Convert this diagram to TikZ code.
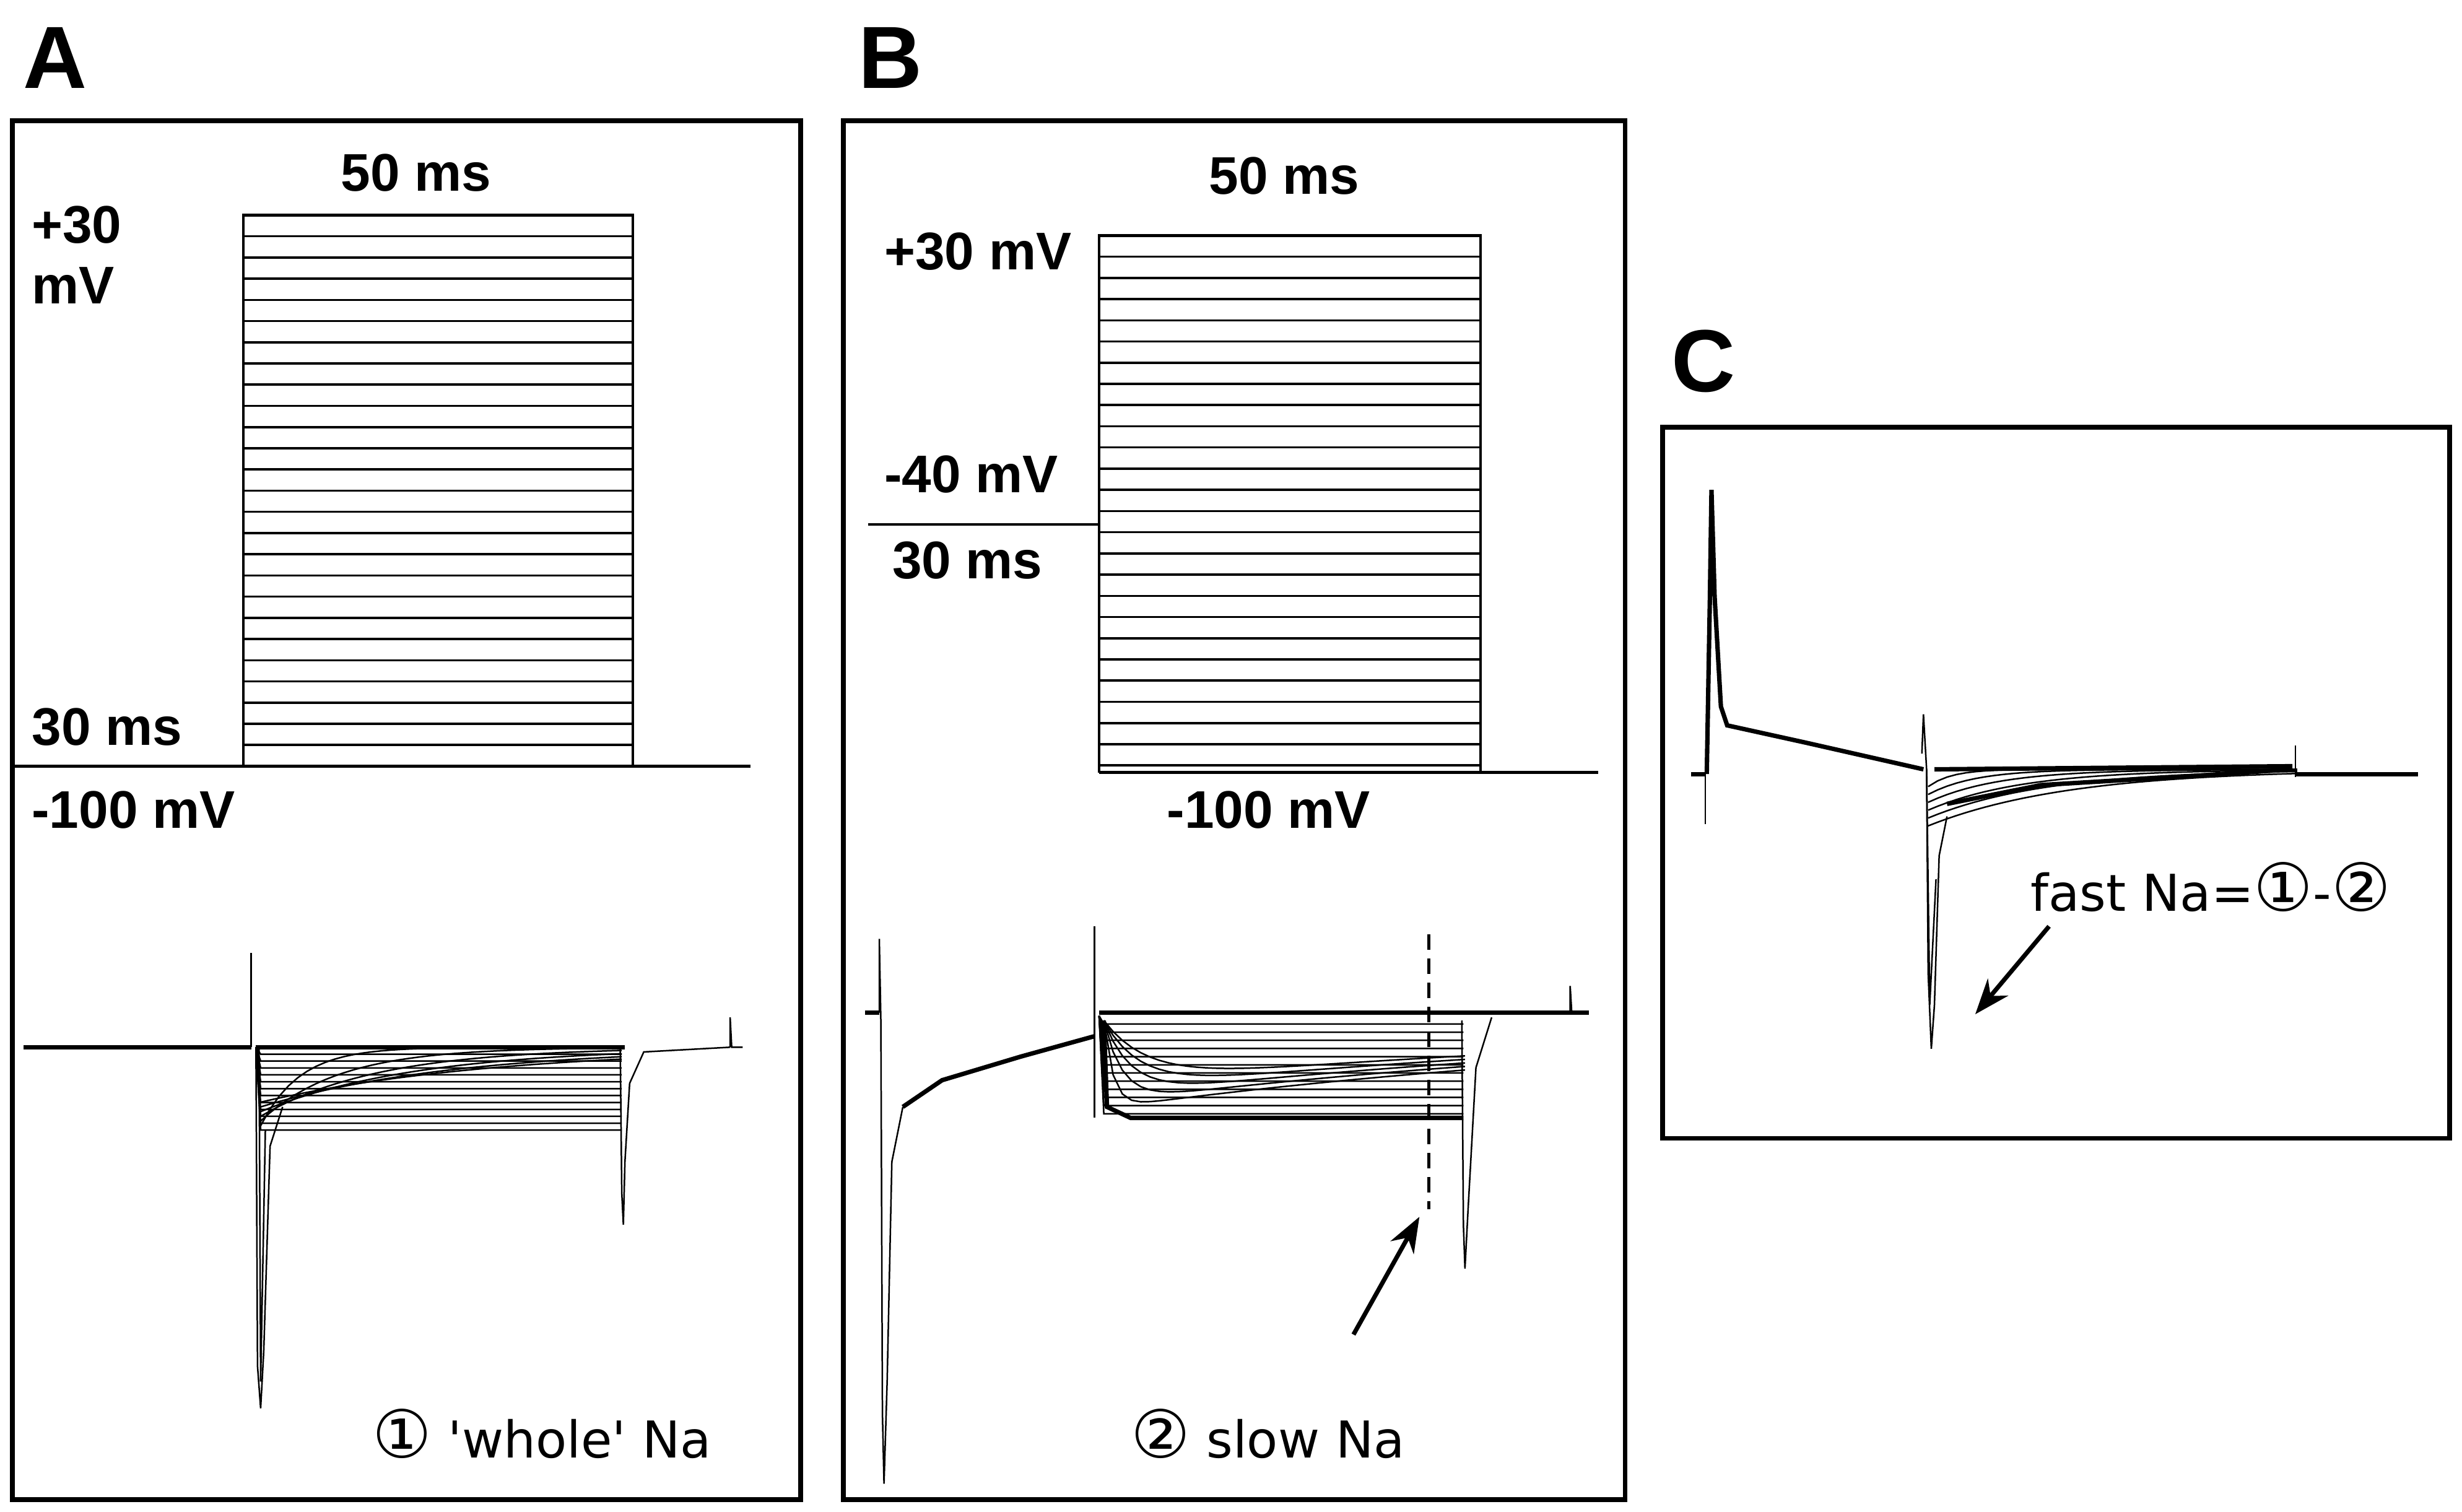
\documentclass[tikz,border=0pt]{standalone}
\usepackage{fontspec}
\setmainfont{Liberation Sans}
\newfontfamily\dv{DejaVu Sans}
\newcommand\cdig[1]{{\fontsize{30}{30}\selectfont #1}}
\usetikzlibrary{arrows.meta}
\begin{document}
\begin{tikzpicture}[x=0.025cm,y=-0.025cm,
 panel/.style={line width=2.2pt},
 big/.style={font=\fontsize{40}{40}\selectfont\bfseries},
 lab/.style={font=\fontsize{24}{26}\selectfont\bfseries,anchor=west,inner sep=0},
 ann/.style={font=\dv\fontsize{23}{25}\selectfont,inner sep=0},
 tr/.style={line width=0.7pt},
 thick tr/.style={line width=2pt},
 arr/.style={line width=2pt,-{Stealth[length=16pt,width=12pt]}}]
\useasboundingbox (0,0) rectangle (1568,963);
% Panel A
\node[big] (LA) at (35,37) {A};
\draw[panel] (8,77) rectangle (510,955);
\node[lab,anchor=center] (tA) at (265,110) {50 ms};
\node[lab] (vA1) at (20,143) {+30};
\node[lab] (vA2) at (20,182) {mV};
\node[lab] (vA3) at (20,463) {30 ms};
\node[lab] (vA4) at (20,516) {-100 mV};
\draw[line width=1.2pt] (8,488) -- (478,488);
\draw[line width=1.2pt] (155,488) -- (155,137) -- (403,137) -- (403,488);
\foreach \i in {0,...,25} \draw[line width=1pt] (155,137+13.5*\i) -- (403,137+13.5*\i);
% trace A
\draw[thick tr] (15,667) -- (160,667);
\draw[tr] (160,667) -- (160,607) -- (160,667);
\draw[thick tr] (163,667) -- (398,667);
\foreach \i in {1,...,12}{
 \draw[tr] (163,667) -- (166,667+4.4*\i) -- (396,667+4.4*\i);
}
\foreach \i in {1,...,6}{
 \draw[tr] plot[domain=0:230,samples=40] ({166+\x},{667+(53-\i*3)*exp(-\x/(25*\i))});
}
\draw[tr] (163,667) -- (164,870) -- (166,897) -- (168,860) -- (172,730) -- (180,705);
\draw[tr] (165,667) -- (166,880) -- (169,720);
\draw[tr] (395,667) -- (396,760) -- (397,780) -- (398,740) -- (401,690) -- (410,670) -- (465,667);
\draw[tr] (465,667) -- (465,648) -- (466,667) -- (473,667);
\node[ann,anchor=west] (nA) at (237,913) {\cdig{①} 'whole' Na};
% Panel B
\node[big] (LB) at (567,37) {B};
\draw[panel] (537,77) rectangle (1035,955);
\node[lab,anchor=center] (tB) at (818,112) {50 ms};
\node[lab] (vB1) at (563,160) {+30 mV};
\node[lab] (vB2) at (563,302) {-40 mV};
\node[lab] (vB3) at (568,357) {30 ms};
\node[lab,anchor=center] (vB4) at (808,516) {-100 mV};
\draw[line width=1.2pt] (553,334) -- (700,334);
\draw[line width=1.2pt] (700,492) -- (1018,492);
\draw[line width=1.2pt] (700,492) -- (700,150) -- (943,150) -- (943,492);
\foreach \i in {0,...,25} \draw[line width=1pt] (700,150+13.5*\i) -- (943,150+13.5*\i);
% trace B
\draw[thick tr] (551,645) -- (560,645);
\draw[tr] (560,645) -- (560,598) -- (561,650) -- (562,900) -- (563,945) -- (565,880) -- (568,740) -- (575,705);
\draw[thick tr] (575,705) -- (600,688) -- (650,673) -- (697,660);
\draw[tr] (697,590) -- (697,712);
\draw[thick tr] (700,645) -- (1012,645);
\foreach \i in {1,...,12}{
 \draw[tr] (700,647) -- (703,647+5.2*\i) -- (932,647+5.2*\i);
}
\foreach \i in {1,...,5}{
 \draw[tr] plot[domain=0:230,samples=40] ({703+\x},{650+(60-\i*4)*(1-exp(-\x/(6*\i)))*exp(-\x/400)});
}
\draw[thick tr] (703,650) -- (705,705) -- (720,712) -- (932,712);
\draw[tr] (931,650) -- (932,780) -- (933,808) -- (935,770) -- (940,680) -- (950,648);
\draw[tr] (1000,645) -- (1000,628) -- (1001,645);
\draw[line width=1.6pt,dash pattern=on 7pt off 4pt] (910,595) -- (910,770);
\coordinate (aB1) at (862,850);
\coordinate (aB2) at (904,775);
\draw[arr] (aB1) -- (aB2);
\node[ann,anchor=west] (nB) at (720,913) {\cdig{②} slow Na};
% Panel C
\node[big] (LC) at (1085,230) {C};
\draw[panel] (1059,272) rectangle (1560,725);
\draw[thick tr] (1077,493) -- (1086,493);
\draw[tr] (1086,493) -- (1086,525);
\draw[thick tr] (1087,493) -- (1089,380) -- (1090,312) -- (1092,380) -- (1096,450) -- (1100,462) -- (1150,473) -- (1225,490);
\draw[tr] (1224,480) -- (1225,455) -- (1227,490) -- (1228,620) -- (1230,668) -- (1232,640) -- (1235,545) -- (1240,520);
\draw[tr] (1227,490) -- (1229,640) -- (1233,560);
\foreach \i in {1,...,6}{
 \draw[tr] plot[domain=0:235,samples=40] ({1228+\x},{490+(6+\i*5)*exp(-\x/(15*\i))});
}
\draw[thick tr] (1232,490) -- (1460,488);
\draw[thick tr] (1240,512) -- (1300,500) -- (1400,494) -- (1460,490);
\draw[tr] (1462,475) -- (1462,495);
\draw[thick tr] (1462,493) -- (1540,493);
\node[ann] (nC) at (1408,565) {fast Na=\cdig{①}-\cdig{②}};
\coordinate (aC1) at (1305,590);
\coordinate (aC2) at (1258,646);
\draw[arr] (aC1) -- (aC2);
\end{tikzpicture}
\end{document}
